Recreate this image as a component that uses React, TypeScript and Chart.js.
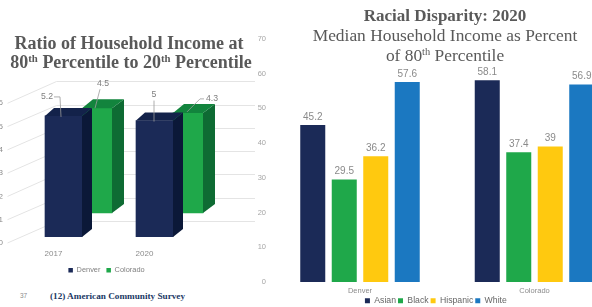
import React, { useEffect, useRef } from "react";
import { Chart, registerables } from "chart.js";

Chart.register(...registerables);

// ---------- Left chart data (3D ratio chart) ----------
const ratioYears = ["2017", "2020"];
const ratioDenver = [5.2, 5];
const ratioColorado = [4.5, 4.3];
const ratioAxisTicks = [0, 1, 2, 3, 4, 5, 6];

// ---------- Right chart data (racial disparity) ----------
const raceRegions = ["Denver", "Colorado"];
const raceAsian = [45.2, 58.1];
const raceBlack = [29.5, 37.4];
const raceHispanic = [36.2, 39];
const raceWhite = [57.6, 56.9];

const SANS = "'Liberation Sans', Arial, sans-serif";
const SERIF = "'Liberation Serif', 'Times New Roman', serif";

const NAVY = "#1b2a57";
const GREEN = "#1fa84a";
const YELLOW = "#ffc90f";
const BLUE = "#1b78c1";
const GREY_TEXT = "#8c8c8c";

// 3D face styles per dataset (Denver, Colorado)
const faceStyle = [
  { side: "#0b1838", top: "#13224a", dx: 10, dy: -8 },
  { side: "#0e6b33", top: "#12843d", dx: 12, dy: -9 },
];

// data label placement (relative to bar left / top) per dataset, per point
const ratioLabelStyle = [
  [
    { lx: 2, ly: -19, path: [[9, -19], [15, -19], [16, 1]] },
    { lx: 18, ly: -26, path: [[18, -20], [18, 1]] },
  ],
  [
    { lx: 21, ly: -25, path: [[18, -19], [13, 0]] },
    { lx: 39, ly: -14, path: [[31, -14], [27, -14], [14, -1]] },
  ],
];

const bar3dPlugin = {
  id: "bar3d",
  beforeDatasetsDraw(chart: any) {
    const { ctx, chartArea } = chart;
    const wall = chart.scales.yWall;
    const front = chart.scales.y;
    ctx.save();
    ctx.strokeStyle = "#e4e4e4";
    ctx.lineWidth = 1;
    for (const t of ratioAxisTicks) {
      const yw = Math.round(wall.getPixelForValue(t)) + 0.5;
      const yl = front.getPixelForValue(t) + 6;
      ctx.beginPath();
      ctx.moveTo(chartArea.left - 29, yl);
      ctx.lineTo(chartArea.left + 20, yw);
      ctx.lineTo(chartArea.right + 36.5, yw);
      ctx.stroke();
    }
    ctx.restore();
  },
  afterDatasetDraw(chart: any, args: any) {
    const ctx = chart.ctx;
    const st = faceStyle[args.index];
    ctx.save();
    args.meta.data.forEach((el: any) => {
      const { x, y, base, width } = el.getProps(["x", "y", "base", "width"], true);
      const l = x - width / 2;
      const r = x + width / 2;
      ctx.fillStyle = st.side;
      ctx.beginPath();
      ctx.moveTo(r, y);
      ctx.lineTo(r + st.dx, y + st.dy);
      ctx.lineTo(r + st.dx, base + st.dy);
      ctx.lineTo(r, base);
      ctx.closePath();
      ctx.fill();
      ctx.fillStyle = st.top;
      ctx.beginPath();
      ctx.moveTo(l, y);
      ctx.lineTo(l + st.dx - 1, y + st.dy);
      ctx.lineTo(r + st.dx, y + st.dy);
      ctx.lineTo(r, y);
      ctx.closePath();
      ctx.fill();
    });
    ctx.restore();
  },
  afterDraw(chart: any) {
    const ctx = chart.ctx;
    ctx.save();
    ctx.font = `8.7px ${SANS}`;
    ctx.fillStyle = "#7f7f7f";
    ctx.strokeStyle = "#9a9a9a";
    ctx.lineWidth = 0.8;
    ctx.textAlign = "center";
    ctx.textBaseline = "middle";
    chart.data.datasets.forEach((ds: any, di: number) => {
      const meta = chart.getDatasetMeta(di);
      meta.data.forEach((el: any, i: number) => {
        const { x, y, width } = el.getProps(["x", "y", "width"], true);
        const l = x - width / 2;
        const s = ratioLabelStyle[di][i];
        ctx.fillText(String(ds.data[i]), l + s.lx, y + s.ly);
        ctx.beginPath();
        s.path.forEach((p: number[], k: number) => {
          if (k === 0) ctx.moveTo(l + p[0], y + p[1]);
          else ctx.lineTo(l + p[0], y + p[1]);
        });
        ctx.stroke();
      });
    });
    ctx.restore();
  },
};

const raceLabelPlugin = {
  id: "raceLabels",
  afterDatasetsDraw(chart: any) {
    const ctx = chart.ctx;
    ctx.save();
    ctx.font = `10px ${SANS}`;
    ctx.fillStyle = "#8a8a8a";
    ctx.textAlign = "center";
    ctx.textBaseline = "middle";
    chart.data.datasets.forEach((ds: any, di: number) => {
      chart.getDatasetMeta(di).data.forEach((el: any, i: number) => {
        ctx.fillText(String(ds.data[i]), el.x, el.y - 8);
      });
    });
    ctx.restore();
  },
};

function LeftChart() {
  const ref = useRef<HTMLCanvasElement | null>(null);
  useEffect(() => {
    const chart = new Chart(ref.current as HTMLCanvasElement, {
      type: "bar",
      data: {
        labels: ratioYears,
        datasets: [
          { label: "Denver", data: ratioDenver, backgroundColor: NAVY, barThickness: 37, yAxisID: "y" },
          { label: "Colorado", data: ratioColorado, backgroundColor: GREEN, barThickness: 30, yAxisID: "y2" },
        ],
      },
      options: {
        animation: false,
        responsive: false,
        maintainAspectRatio: false,
        layout: { padding: { top: 74, left: 0.5, right: 43.5, bottom: 0 } },
        plugins: {
          legend: {
            position: "bottom",
            labels: { boxWidth: 4.5, boxHeight: 4.5, padding: 6, color: "#7f7f7f", font: { size: 7.4, family: SANS } },
          },
          tooltip: { enabled: false },
        },
        scales: {
          x: {
            grid: { display: false, drawTicks: false },
            border: { display: false },
            ticks: { labelOffset: -28.5, padding: 12, color: GREY_TEXT, font: { size: 8, family: SANS } },
            afterFit: (s: any) => { s.height = 23.6; },
          },
          y: {
            position: "left",
            min: 0,
            max: 7,
            grid: { display: false, drawTicks: false },
            border: { display: false },
            ticks: {
              stepSize: 1,
              padding: 33.5,
              labelOffset: 6,
              color: GREY_TEXT,
              font: { size: 8, family: SANS },
              callback: (v: any) => (v === 7 ? "" : v),
            },
            afterFit: (s: any) => { s.width = 42; },
          },
          y2: { display: false, min: -1.03, max: 5.97 },
          yWall: { display: false, min: -0.687, max: 6.313 },
        },
      } as any,
      plugins: [bar3dPlugin],
    });
    return () => chart.destroy();
  }, []);
  return (
    <canvas
      ref={ref}
      width={268}
      height={284}
      style={{ position: "absolute", left: -6, top: 0, width: 268, height: 284 }}
    />
  );
}

function RightChart() {
  const ref = useRef<HTMLCanvasElement | null>(null);
  useEffect(() => {
    const common = { categoryPercentage: 0.722, barPercentage: 0.794 };
    const chart = new Chart(ref.current as HTMLCanvasElement, {
      type: "bar",
      data: {
        labels: raceRegions,
        datasets: [
          { label: "Asian", data: raceAsian, backgroundColor: NAVY, ...common },
          { label: "Black", data: raceBlack, backgroundColor: GREEN, ...common },
          { label: "Hispanic", data: raceHispanic, backgroundColor: YELLOW, ...common },
          { label: "White", data: raceWhite, backgroundColor: BLUE, ...common },
        ],
      },
      options: {
        animation: false,
        responsive: false,
        maintainAspectRatio: false,
        layout: { padding: { top: 39, left: 0, right: 6.25, bottom: 0 } },
        plugins: {
          legend: {
            position: "bottom",
            labels: { boxWidth: 5, boxHeight: 5, padding: 2, color: "#666666", font: { size: 8.7, family: SANS } },
          },
          tooltip: { enabled: false },
        },
        scales: {
          x: {
            grid: { display: false, drawTicks: false },
            border: { display: false },
            ticks: { padding: 4.5, color: GREY_TEXT, font: { size: 7.5, family: SANS } },
            afterFit: (s: any) => { s.height = 12.3; },
          },
          y: {
            min: 0,
            max: 70,
            grid: { display: false, drawTicks: false },
            border: { display: false },
            ticks: { stepSize: 10, padding: 6.75, color: "#a6a6a6", font: { size: 7.5, family: SANS } },
            afterFit: (s: any) => { s.width = 22.75; },
          },
        },
      } as any,
      plugins: [raceLabelPlugin],
    });
    return () => chart.destroy();
  }, []);
  return (
    <canvas
      ref={ref}
      width={378}
      height={315}
      style={{ position: "absolute", left: 250, top: 0, width: 378, height: 315 }}
    />
  );
}

const supStyle: React.CSSProperties = { fontSize: "0.6em", verticalAlign: "0.6em", lineHeight: 0 };

function line(top: number, left: number, width: number, size: number, bold: boolean, content: React.ReactNode) {
  return (
    <div
      style={{
        position: "absolute",
        top,
        left,
        width,
        textAlign: "center",
        fontFamily: SERIF,
        fontSize: size,
        fontWeight: bold ? 700 : 400,
        lineHeight: "20px",
        color: "#595959",
        whiteSpace: "nowrap",
      }}
    >
      {content}
    </div>
  );
}

export default function App() {
  return (
    <div
      style={{
        position: "absolute",
        left: 0,
        top: 0,
        width: 592,
        height: 307,
        overflow: "hidden",
        background: "#ffffff",
      }}
    >
      <LeftChart />
      <RightChart />
      {line(33, 0, 258, 18, true, "Ratio of Household Income at")}
      {line(52, 0, 262, 18, true, <>80<sup style={supStyle}>th</sup> Percentile to 20<sup style={supStyle}>th</sup> Percentile</>)}
      {line(6, 300, 290, 17, true, "Racial Disparity: 2020")}
      {line(25, 300, 290, 17.4, false, "Median Household Income as Percent")}
      {line(45, 300, 290, 17.4, false, <>of 80<sup style={supStyle}>th</sup> Percentile</>)}
      <div
        style={{
          position: "absolute",
          left: 20,
          top: 291,
          fontFamily: SANS,
          fontSize: 6.5,
          lineHeight: "10px",
          color: "#8c8c8c",
        }}
      >
        37
      </div>
      <div
        style={{
          position: "absolute",
          left: 50,
          top: 289,
          fontFamily: SERIF,
          fontSize: 9.2,
          fontWeight: 700,
          lineHeight: "14px",
          color: "#203864",
          whiteSpace: "nowrap",
        }}
      >
        (12) American Community Survey
      </div>
    </div>
  );
}
